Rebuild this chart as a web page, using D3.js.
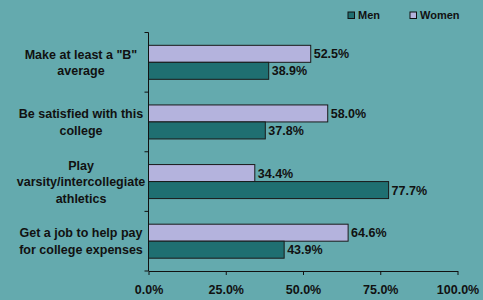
<!DOCTYPE html>
<html><head><meta charset="utf-8">
<script src="https://cdn.jsdelivr.net/npm/d3@7"></script>
<style>html,body{margin:0;padding:0;background:#64AAAE;}svg{display:block;}</style>
</head><body>
<script>
const categories = [
  ["Make at least a \"B\"", "average"],
  ["Be satisfied with this", "college"],
  ["Play", "varsity/intercollegiate", "athletics"],
  ["Get a job to help pay", "for college expenses"]
];
const women = [52.5, 58.0, 34.4, 64.6];
const men = [38.9, 37.8, 77.7, 43.9];
const seriesNames = ["Men", "Women"];
const xTicks = [0, 25, 50, 75, 100];

const W = 483, H = 300;
const colors = {Men: "#1F6F71", Women: "#B4B3DD"};
const font = "'Liberation Sans', Arial, sans-serif";

const svg = d3.select("body").append("svg").attr("width", W).attr("height", H);
svg.append("rect").attr("width", W).attr("height", H).attr("fill", "#64AAAE");

const x = d3.scaleLinear().domain([0, 100]).range([148.5, 457.5]);
const y = d3.scaleBand().domain(d3.range(categories.length)).range([32.5, 271]);
const inner = d3.scaleBand().domain(["Women", "Men"]).range([0, 34]);
const groupOff = (y.bandwidth() - 34) / 2;

const rows = categories.map((c, i) => ({i, vals: [{k: "Women", v: women[i]}, {k: "Men", v: men[i]}]}));

const g = svg.append("g");
rows.forEach(r => {
  r.vals.forEach(d => {
    const yy = y(r.i) + groupOff + inner(d.k);
    g.append("rect")
      .attr("x", x(0)).attr("y", yy)
      .attr("width", x(d.v) - x(0)).attr("height", inner.bandwidth())
      .attr("fill", colors[d.k]).attr("stroke", "#1a1a1a").attr("stroke-width", 1);
    g.append("text")
      .attr("x", x(d.v) + 3).attr("y", yy + inner.bandwidth() / 2)
      .attr("dy", "0.36em")
      .attr("font-family", font).attr("font-weight", "bold").attr("font-size", 12.5)
      .attr("fill", "#111").text(d.v.toFixed(1) + "%");
  });
});

// x axis
const xAxis = svg.append("g").attr("transform", `translate(0,${y.range()[1]})`)
  .call(d3.axisBottom(x).tickValues(xTicks).tickSize(4).tickSizeOuter(0).tickFormat(d => d.toFixed(1) + "%"));
xAxis.select(".domain").attr("stroke", "#111");
xAxis.selectAll(".tick line").attr("stroke", "#111");
xAxis.selectAll("text").attr("font-family", font).attr("font-weight", "bold").attr("font-size", 12.5)
  .attr("fill", "#111").attr("dy", "0").attr("y", 23);

// y axis line with ticks at band edges
const yAxis = svg.append("g").attr("transform", `translate(${x(0)},0)`);
yAxis.append("line").attr("x1", 0).attr("x2", 0).attr("y1", y.range()[0]).attr("y2", y.range()[1]).attr("stroke", "#111");
const edges = d3.range(categories.length + 1).map(i => y.range()[0] + i * y.step());
yAxis.selectAll(".yt").data(edges).join("line").attr("class", "yt")
  .attr("x1", -4).attr("x2", 0).attr("y1", d => d).attr("y2", d => d).attr("stroke", "#111");

// category labels
categories.forEach((lines, i) => {
  const cy = y(i) + y.bandwidth() / 2;
  const lh = 16.5;
  const t = svg.append("text").attr("text-anchor", "middle")
    .attr("font-family", font).attr("font-weight", "bold").attr("font-size", 12.5).attr("fill", "#111");
  lines.forEach((ln, j) => {
    t.append("tspan").attr("x", 81).attr("y", cy + (j - (lines.length - 1) / 2) * lh).attr("dy", "0.36em").text(ln);
  });
});

// legend
const legendX = [348, 410];
seriesNames.forEach((s, i) => {
  svg.append("rect").attr("x", legendX[i]).attr("y", 12).attr("width", 6.5).attr("height", 6.5)
    .attr("fill", colors[s]).attr("stroke", "#111").attr("stroke-width", 1);
  svg.append("text").attr("x", legendX[i] + 10).attr("y", 15.5).attr("dy", "0.36em")
    .attr("font-family", font).attr("font-weight", "bold").attr("font-size", 11).attr("fill", "#111").text(s);
});
</script>
</body></html>
